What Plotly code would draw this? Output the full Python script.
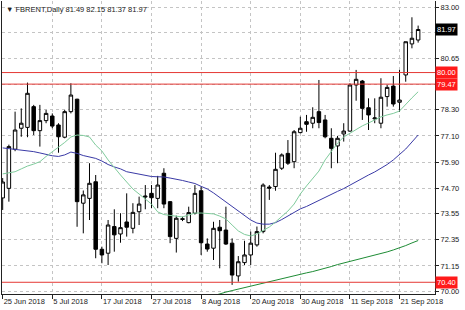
import plotly.graph_objects as go
import pandas as pd

# ---- data ----
dates = [d.strftime("%Y-%m-%d") for d in pd.bdate_range("2018-06-25", periods=68)]

open_ = [74.26, 74.70, 76.49, 77.45, 77.49, 78.44, 77.34, 77.80, 78.01, 77.60,
         77.04, 78.21, 78.78, 74.02, 74.24, 75.00, 71.91, 71.73, 72.95, 72.61,
         73.16, 72.87, 73.63, 74.30, 74.47, 74.24, 75.39, 74.09, 72.41, 73.31,
         73.13, 73.56, 74.59, 72.15, 71.96, 72.92, 72.79, 72.19, 70.69, 71.30,
         71.65, 72.11, 72.72, 74.76, 74.78, 75.62, 76.30, 75.92, 77.25, 77.75,
         77.68, 78.21, 77.83, 76.99, 76.64, 77.19, 77.32, 79.43, 79.61, 78.39,
         77.88, 77.68, 78.90, 79.38, 78.64, 79.89, 81.31, 81.49]
high = [75.17, 76.70, 78.21, 78.36, 79.54, 78.52, 78.52, 78.29, 78.13, 77.68,
        78.29, 79.51, 78.80, 74.60, 75.85, 75.31, 72.03, 73.25, 73.74, 73.56,
        74.47, 74.02, 74.32, 74.85, 74.85, 75.27, 75.62, 74.12, 73.45, 73.40,
        73.86, 74.85, 74.78, 72.41, 73.17, 73.25, 73.86, 72.41, 71.60, 72.30,
        72.72, 72.95, 74.93, 74.85, 76.33, 76.30, 76.91, 77.37, 77.98, 78.06,
        78.41, 79.66, 78.06, 77.45, 77.10, 77.68, 79.51, 80.12, 79.66, 78.82,
        78.82, 79.74, 79.43, 79.84, 80.12, 81.41, 82.53, 82.15]
low = [73.71, 74.09, 76.40, 77.06, 77.04, 77.14, 76.61, 77.68, 77.45, 76.33,
       76.99, 78.13, 72.94, 72.64, 73.25, 71.50, 71.27, 71.19, 71.80, 72.21,
       72.49, 72.64, 73.02, 73.74, 73.79, 73.79, 73.79, 72.19, 71.76, 73.20,
       73.10, 73.50, 71.65, 71.80, 71.42, 71.04, 72.11, 70.28, 70.43, 71.19,
       71.19, 72.03, 72.64, 74.17, 74.59, 75.54, 75.77, 75.62, 77.22, 77.29,
       77.45, 77.45, 76.99, 75.62, 75.85, 76.84, 77.29, 78.71, 77.83, 77.37,
       77.68, 77.45, 78.44, 78.44, 78.21, 79.58, 81.11, 81.37]
close = [74.99, 76.61, 77.37, 77.68, 79.05, 77.34, 77.80, 78.13, 77.55, 77.06,
         78.21, 78.97, 74.09, 74.40, 74.93, 71.91, 71.65, 73.02, 72.57, 72.90,
         72.92, 73.60, 73.98, 74.34, 74.27, 74.85, 73.98, 72.49, 73.33, 73.28,
         73.59, 74.47, 72.21, 71.92, 72.87, 72.76, 72.15, 70.73, 71.34, 71.65,
         72.19, 72.72, 74.85, 74.71, 75.57, 76.23, 75.85, 77.29, 77.45, 77.63,
         77.95, 77.71, 77.06, 76.53, 76.99, 77.32, 79.43, 79.69, 78.36, 78.06,
         77.92, 78.87, 79.32, 78.56, 78.74, 81.41, 81.57, 81.97]

ma_fast = [75.36, 75.40, 75.46, 75.59, 75.72, 75.81, 75.92, 76.16, 76.36, 76.57,
           76.80, 77.05, 77.14, 77.12, 77.05, 76.68, 76.41, 76.00, 75.63, 75.31,
           74.99, 74.67, 74.44, 74.21, 73.98, 73.62, 73.50, 73.46, 73.43, 73.39,
           73.48, 73.57, 73.57, 73.55, 73.53, 73.43, 73.30, 73.02, 72.75, 72.59,
           72.52, 72.61, 72.79, 72.93, 73.16, 73.39, 73.66, 73.98, 74.44, 74.81,
           75.13, 75.49, 76.00, 76.41, 76.77, 77.05, 77.23, 77.42, 77.56, 77.69,
           77.83, 77.97, 78.06, 78.13, 78.24, 78.56, 78.84, 79.12]
ma_mid = [76.55, 76.52, 76.48, 76.44, 76.41, 76.38, 76.32, 76.24, 76.19, 76.16,
          76.23, 76.36, 76.30, 76.20, 76.15, 76.07, 75.95, 75.79, 75.68, 75.59,
          75.46, 75.40, 75.33, 75.27, 75.24, 75.23, 75.22, 75.17, 75.13, 75.06,
          74.99, 74.92, 74.79, 74.67, 74.49, 74.28, 74.10, 73.89, 73.66, 73.43,
          73.25, 73.11, 73.06, 73.06, 73.13, 73.27, 73.43, 73.62, 73.76, 73.87,
          74.01, 74.17, 74.30, 74.44, 74.56, 74.69, 74.85, 74.99, 75.15, 75.31,
          75.45, 75.61, 75.79, 76.00, 76.23, 76.50, 76.82, 77.14]
ma_slow = [69.70, 69.79, 69.87, 69.95, 70.02, 70.09, 70.16, 70.23, 70.30, 70.37,
           70.44, 70.51, 70.57, 70.64, 70.71, 70.76, 70.83, 70.89, 70.96, 71.03,
           71.12, 71.21, 71.28, 71.35, 71.42, 71.49, 71.56, 71.64, 71.71, 71.79,
           71.88, 71.97, 72.08, 72.20, 72.31]
ma_slow_dates = dates[len(dates) - len(ma_slow):]

x_tick_labels = ["25 Jun 2018", "5 Jul 2018", "17 Jul 2018", "27 Jul 2018", "8 Aug 2018",
                 "20 Aug 2018", "30 Aug 2018", "11 Sep 2018", "21 Sep 2018"]
x_tick_dates = dates[::8]

y_grid = [70.00, 71.15, 72.35, 73.55, 74.70, 75.90, 77.10, 78.30, 79.45, 80.65, 81.85, 83.00]
y_labels = ["70.00", "71.15", "72.35", "73.55", "74.70", "75.90", "77.10", "78.30", "", "80.65", "", "83.00"]

levels = [80.00, 79.47, 70.40]
level_labels = ["80.00", "79.47", "70.40"]
last_price = 81.97
title_text = "\u25bc FBRENT,Daily 81.49 82.15 81.37 81.97"

FONT = "Liberation Sans"
FS = 7.5

fig = go.Figure()
fig.add_trace(go.Scatter(x=dates, y=ma_mid, mode="lines", line=dict(color="#3a3aa6", width=1), hoverinfo="skip"))
fig.add_trace(go.Scatter(x=dates, y=ma_fast, mode="lines", line=dict(color="#7fcb9c", width=1), hoverinfo="skip"))
fig.add_trace(go.Scatter(x=ma_slow_dates, y=ma_slow, mode="lines", line=dict(color="#1e8c35", width=1), hoverinfo="skip"))

for lv in levels:
    fig.add_hline(y=lv, line=dict(color="#e53935", width=1))

fig.add_trace(go.Candlestick(
    x=dates, open=open_, high=high, low=low, close=close,
    increasing=dict(fillcolor="white", line=dict(color="black", width=1)),
    decreasing=dict(fillcolor="black", line=dict(color="black", width=1)),
    whiskerwidth=0,
))

for lv, lab in zip(levels, level_labels):
    fig.add_annotation(x=1, xref="paper", y=lv, yref="y", text=lab, showarrow=False,
                       xanchor="left", yanchor="middle", bgcolor="#ff1a1a",
                       font=dict(family=FONT, size=FS, color="white"), borderpad=1)
fig.add_annotation(x=1, xref="paper", y=last_price, yref="y", text=f"{last_price:.2f}", showarrow=False,
                   xanchor="left", yanchor="middle", bgcolor="black",
                   font=dict(family=FONT, size=FS, color="white"), borderpad=1)
fig.add_annotation(x=0, xref="paper", y=1, yref="paper", text=title_text, showarrow=False,
                   xanchor="left", yanchor="top", xshift=2, yshift=-2,
                   font=dict(family=FONT, size=FS, color="#222222"))

fig.update_layout(
    width=465, height=310,
    margin=dict(l=2, r=30, t=1, b=16),
    paper_bgcolor="white", plot_bgcolor="white",
    showlegend=False,
    boxgap=0.25, boxgroupgap=0.25,
    font=dict(family=FONT, size=FS, color="#222222"),
    xaxis=dict(
        type="category", range=[-0.11, 69.72],
        rangeslider=dict(visible=False),
        tickmode="array", tickvals=x_tick_dates, ticktext=x_tick_labels,
        ticklabelposition="outside right", tickangle=0,
        ticks="outside", ticklen=4, tickcolor="#222", tickwidth=1,
        showgrid=True, gridcolor="#c4c4c4", griddash="3px,3px", gridwidth=1,
        showline=True, linecolor="#222", linewidth=1, mirror=False,
        zeroline=False,
    ),
    yaxis=dict(
        side="right", range=[69.863, 83.275],
        tickmode="array", tickvals=y_grid, ticktext=y_labels,
        ticks="outside", ticklen=3, tickcolor="#222", tickwidth=1,
        showgrid=True, gridcolor="#c4c4c4", griddash="3px,3px", gridwidth=1,
        showline=True, linecolor="#222", linewidth=1, mirror=True,
        zeroline=False,
    ),
)

fig.write_html("out.html")
